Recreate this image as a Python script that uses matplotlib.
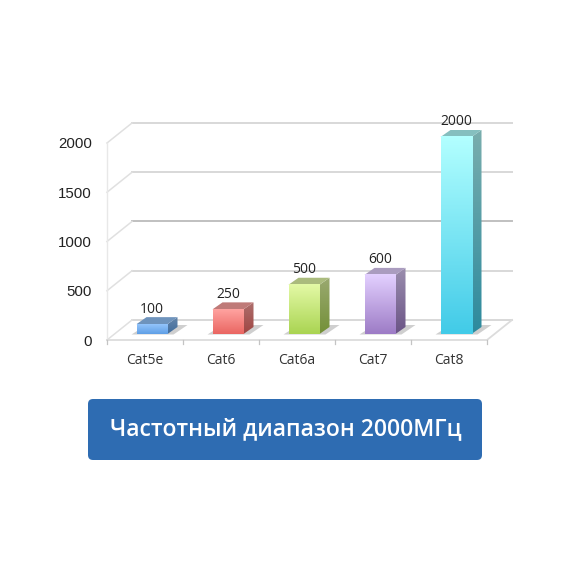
import numpy as np
import matplotlib
matplotlib.use("Agg")
import matplotlib.pyplot as plt
from matplotlib.colors import LinearSegmentedColormap, to_rgb
from matplotlib.patches import FancyBboxPatch, Polygon

categories = ["Cat5e", "Cat6", "Cat6a", "Cat7", "Cat8"]
values = [100, 250, 500, 600, 2000]
yticks = [0, 500, 1000, 1500, 2000]
top_colors = ["#93c4fb", "#ffa3a0", "#e3f9a6", "#e3d0ff", "#b2ffff"]
bottom_colors = ["#5f9fe6", "#ea6662", "#aad452", "#9d7cc6", "#42cbe8"]
title = "Частотный диапазон 2000МГц"

W = H = 570
fig = plt.figure(figsize=(W / 100, H / 100), dpi=100, facecolor="white")

# plot area is the front plane of the 3d box
left, right, bottom, top = 107, 487, 340, 143
ax = fig.add_axes([left / W, 1 - bottom / H, (right - left) / W, (bottom - top) / H])
ax.axis("off")

px = 5 / (right - left)
py = 2000 / (bottom - top)
back_x, back_y = 25 * px, 20 * py
depth_x, depth_y = 10 * px, 7 * py
lift = 6 * py
bar_w = 31 * px
grid = "#dcdcdc"


def darker(c, f):
    return tuple(v * f for v in to_rgb(c))


def gradient(box, c_top, c_bot, clip=None, z=3):
    cmap = LinearSegmentedColormap.from_list("g", [c_top, c_bot])
    im = ax.imshow(np.linspace(0, 1, 64).reshape(-1, 1), cmap=cmap, extent=box,
                   aspect="auto", zorder=z, clip_on=clip is not None, interpolation="bilinear")
    if clip is not None:
        clip.set_transform(ax.transData)
        im.set_clip_path(clip)
        im.set_clip_box(fig.bbox)
    return im


# walls and floor
for v in yticks:
    color = "#c0c0c0" if v == 1000 else "#d8d8d8"
    ax.plot([back_x, 5 + back_x], [v + back_y, v + back_y], color=color, lw=1.4,
            zorder=1, clip_on=False)
    ax.plot([0, back_x], [v, v + back_y], color="#e0e0e0", lw=1.1, zorder=1, clip_on=False)
ax.plot([0, 0], [0, 2000], color="#e8e8e8", lw=1.0, zorder=1, clip_on=False)
ax.plot([0, 5, 5 + back_x], [0, 0, back_y], color=grid, lw=1.3, zorder=1, clip_on=False)
for i in range(6):
    ax.plot([i, i], [0, -4 * py], color="#c4c4c4", lw=0.9, zorder=1, clip_on=False)

for i, (name, v) in enumerate(zip(categories, values)):
    x0 = i + 0.5 + 7 * px - bar_w / 2
    x1 = x0 + bar_w
    y0, y1 = lift, v + lift

    # shadow on the floor
    ax.add_patch(Polygon([(x0 - 5 * px, y0 - 0.5 * py), (x1 + 6 * px, y0 - 0.5 * py),
                          (x1 + 20 * px, y0 + 9 * py), (x0 + 10 * px, y0 + 9 * py)],
                         closed=True, fc="#cfcfcf", ec="none", zorder=2, clip_on=False))

    # front, side and top faces
    gradient((x0, x1, y0, y1), top_colors[i], bottom_colors[i], z=4)
    side = Polygon([(x1, y0), (x1 + depth_x, y0 + depth_y), (x1 + depth_x, y1 + depth_y), (x1, y1)],
                   closed=True, fc="none", ec="none")
    ax.add_patch(side)
    gradient((x1, x1 + depth_x, y0, y1 + depth_y), darker(top_colors[i], 0.68),
             darker(bottom_colors[i], 0.68), clip=side, z=3)
    ax.add_patch(Polygon([(x0, y1), (x1, y1), (x1 + depth_x, y1 + depth_y), (x0 + depth_x, y1 + depth_y)],
                         closed=True, fc=darker(top_colors[i], 0.75), ec="none", zorder=3, clip_on=False))

    ax.text((x0 + x1) / 2, y1 + depth_y + 8 * py, str(v), ha="center", va="center",
            fontsize=10, family="Open Sans", color="#222222", zorder=5, clip_on=False)
    ax.text(i + 0.5, -21 * py, name, ha="center", va="center",
            fontsize=10, family="Open Sans", color="#333333", clip_on=False)

for v in yticks:
    ax.text(-15 * px, v - 1.5 * py, str(v), ha="right", va="center", fontsize=10.8,
            family="Liberation Sans", color="#222222", clip_on=False)

ax.set_xlim(0, 5)
ax.set_ylim(0, 2000)

# blue caption box below the chart
box_ax = fig.add_axes([0, 0, 1, 1], facecolor="none")
box_ax.set_xlim(0, W)
box_ax.set_ylim(H, 0)
box_ax.axis("off")
box_ax.add_patch(FancyBboxPatch((88, 399), 394, 61, boxstyle="round,pad=0,rounding_size=5",
                                fc="#2e6cb2", ec="none"))
box_ax.text(285.5, 429, title, ha="center", va="center", color="white",
            fontsize=16.5, family="Open Sans", weight="semibold")

fig.savefig("out.png", dpi=100)
